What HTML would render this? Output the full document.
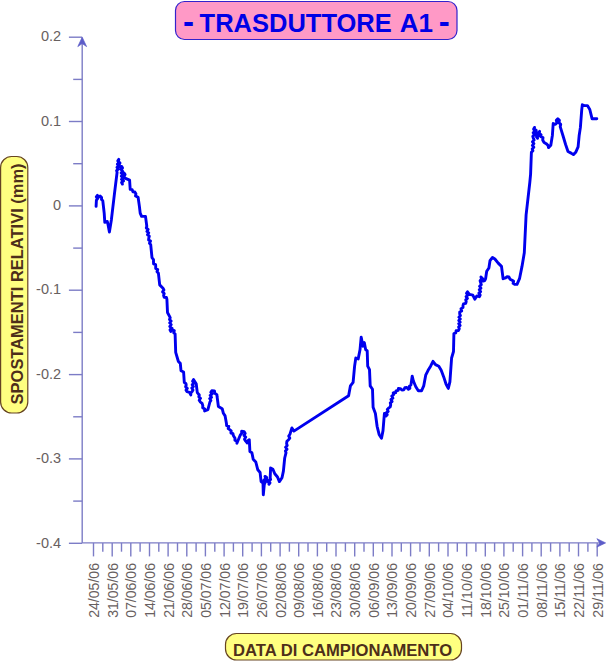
<!DOCTYPE html>
<html><head><meta charset="utf-8"><title>TRASDUTTORE A1</title>
<style>
html,body{margin:0;padding:0;background:#fff;}
body{width:610px;height:661px;overflow:hidden;position:relative;font-family:"Liberation Sans",sans-serif;}
svg{position:absolute;left:0;top:0;display:block}
</style></head><body>
<svg width="610" height="661" viewBox="0 0 610 661" font-family="Liberation Sans, sans-serif">
<rect width="610" height="661" fill="#ffffff"/>
<!-- title -->
<rect x="175.5" y="1.5" width="281.5" height="38" rx="9" ry="9" fill="#ff99c6" stroke="#3322cc" stroke-width="1.2"/>
<g font-weight="bold" fill="#0000e6">
<text x="182.9" y="33.2" font-size="33">-</text>
<text x="199.6" y="31.5" font-size="26" textLength="192.2" lengthAdjust="spacingAndGlyphs">TRASDUTTORE</text>
<text x="399.8" y="31.5" font-size="26">A1</text>
<text x="438.7" y="33.2" font-size="33">-</text>
</g>
<!-- y label -->
<rect x="0.6" y="156.5" width="27.2" height="256.5" rx="11" ry="11" fill="#ffff80" stroke="#664422" stroke-width="1.2"/>
<text transform="translate(22.6,283.9) rotate(-90)" font-size="16.5" font-weight="bold" fill="#4d2e1a" text-anchor="middle" textLength="241" lengthAdjust="spacingAndGlyphs">SPOSTAMENTI RELATIVI (mm)</text>
<!-- x label -->
<rect x="225.5" y="633.5" width="236" height="26.5" rx="11" ry="11" fill="#ffff80" stroke="#664422" stroke-width="1.2"/>
<text x="342.6" y="655.5" font-size="16" font-weight="bold" fill="#4d2e1a" text-anchor="middle" textLength="219" lengthAdjust="spacingAndGlyphs">DATA DI CAMPIONAMENTO</text>
<!-- axes -->
<g stroke="#7c7cc6" stroke-width="1.4" fill="none">
<line x1="82.2" y1="542.9" x2="82.2" y2="38.2"/>
<line x1="82.2" y1="542.9" x2="604" y2="542.9"/>
<line x1="68.9" y1="37.2" x2="82.2" y2="37.2"/>
<line x1="73.2" y1="79.4" x2="82.2" y2="79.4"/>
<line x1="68.9" y1="121.5" x2="82.2" y2="121.5"/>
<line x1="73.2" y1="163.7" x2="82.2" y2="163.7"/>
<line x1="68.9" y1="205.9" x2="82.2" y2="205.9"/>
<line x1="73.2" y1="248.1" x2="82.2" y2="248.1"/>
<line x1="68.9" y1="290.2" x2="82.2" y2="290.2"/>
<line x1="73.2" y1="332.4" x2="82.2" y2="332.4"/>
<line x1="68.9" y1="374.6" x2="82.2" y2="374.6"/>
<line x1="73.2" y1="416.8" x2="82.2" y2="416.8"/>
<line x1="68.9" y1="458.9" x2="82.2" y2="458.9"/>
<line x1="73.2" y1="501.1" x2="82.2" y2="501.1"/>
<line x1="68.9" y1="543.3" x2="82.2" y2="543.3"/>
<line x1="93.5" y1="542.9" x2="93.5" y2="556.4"/>
<line x1="102.8" y1="542.9" x2="102.8" y2="551.7"/>
<line x1="112.2" y1="542.9" x2="112.2" y2="556.4"/>
<line x1="121.5" y1="542.9" x2="121.5" y2="551.7"/>
<line x1="130.8" y1="542.9" x2="130.8" y2="556.4"/>
<line x1="140.1" y1="542.9" x2="140.1" y2="551.7"/>
<line x1="149.5" y1="542.9" x2="149.5" y2="556.4"/>
<line x1="158.8" y1="542.9" x2="158.8" y2="551.7"/>
<line x1="168.1" y1="542.9" x2="168.1" y2="556.4"/>
<line x1="177.5" y1="542.9" x2="177.5" y2="551.7"/>
<line x1="186.8" y1="542.9" x2="186.8" y2="556.4"/>
<line x1="196.1" y1="542.9" x2="196.1" y2="551.7"/>
<line x1="205.4" y1="542.9" x2="205.4" y2="556.4"/>
<line x1="214.8" y1="542.9" x2="214.8" y2="551.7"/>
<line x1="224.1" y1="542.9" x2="224.1" y2="556.4"/>
<line x1="233.4" y1="542.9" x2="233.4" y2="551.7"/>
<line x1="242.7" y1="542.9" x2="242.7" y2="556.4"/>
<line x1="252.1" y1="542.9" x2="252.1" y2="551.7"/>
<line x1="261.4" y1="542.9" x2="261.4" y2="556.4"/>
<line x1="270.7" y1="542.9" x2="270.7" y2="551.7"/>
<line x1="280.1" y1="542.9" x2="280.1" y2="556.4"/>
<line x1="289.4" y1="542.9" x2="289.4" y2="551.7"/>
<line x1="298.7" y1="542.9" x2="298.7" y2="556.4"/>
<line x1="308.0" y1="542.9" x2="308.0" y2="551.7"/>
<line x1="317.4" y1="542.9" x2="317.4" y2="556.4"/>
<line x1="326.7" y1="542.9" x2="326.7" y2="551.7"/>
<line x1="336.0" y1="542.9" x2="336.0" y2="556.4"/>
<line x1="345.4" y1="542.9" x2="345.4" y2="551.7"/>
<line x1="354.7" y1="542.9" x2="354.7" y2="556.4"/>
<line x1="364.0" y1="542.9" x2="364.0" y2="551.7"/>
<line x1="373.3" y1="542.9" x2="373.3" y2="556.4"/>
<line x1="382.7" y1="542.9" x2="382.7" y2="551.7"/>
<line x1="392.0" y1="542.9" x2="392.0" y2="556.4"/>
<line x1="401.3" y1="542.9" x2="401.3" y2="551.7"/>
<line x1="410.6" y1="542.9" x2="410.6" y2="556.4"/>
<line x1="420.0" y1="542.9" x2="420.0" y2="551.7"/>
<line x1="429.3" y1="542.9" x2="429.3" y2="556.4"/>
<line x1="438.6" y1="542.9" x2="438.6" y2="551.7"/>
<line x1="448.0" y1="542.9" x2="448.0" y2="556.4"/>
<line x1="457.3" y1="542.9" x2="457.3" y2="551.7"/>
<line x1="466.6" y1="542.9" x2="466.6" y2="556.4"/>
<line x1="475.9" y1="542.9" x2="475.9" y2="551.7"/>
<line x1="485.3" y1="542.9" x2="485.3" y2="556.4"/>
<line x1="494.6" y1="542.9" x2="494.6" y2="551.7"/>
<line x1="503.9" y1="542.9" x2="503.9" y2="556.4"/>
<line x1="513.2" y1="542.9" x2="513.2" y2="551.7"/>
<line x1="522.6" y1="542.9" x2="522.6" y2="556.4"/>
<line x1="531.9" y1="542.9" x2="531.9" y2="551.7"/>
<line x1="541.2" y1="542.9" x2="541.2" y2="556.4"/>
<line x1="550.6" y1="542.9" x2="550.6" y2="551.7"/>
<line x1="559.9" y1="542.9" x2="559.9" y2="556.4"/>
<line x1="569.2" y1="542.9" x2="569.2" y2="551.7"/>
<line x1="578.5" y1="542.9" x2="578.5" y2="556.4"/>
<line x1="587.9" y1="542.9" x2="587.9" y2="551.7"/>
<line x1="597.2" y1="542.9" x2="597.2" y2="556.4"/>
</g>
<path d="M82.2,37.2 l4.4,9.4 l-4.4,-3 l-4.4,3 z" fill="#5c5cc8" stroke="#5c5cc8" stroke-width="0.7" stroke-linejoin="round"/>
<path d="M605.6,542.9 l-8.7,-4.2 l2.8,4.2 l-2.8,4.2 z" fill="#5c5cc8" stroke="#5c5cc8" stroke-width="0.7" stroke-linejoin="round"/>
<g font-size="15" fill="#686060">
<text x="40.9" y="41.4" textLength="20.2" lengthAdjust="spacingAndGlyphs">0.2</text>
<text x="40.9" y="125.8" textLength="20.2" lengthAdjust="spacingAndGlyphs">0.1</text>
<text x="53.0" y="210.1" textLength="8.1" lengthAdjust="spacingAndGlyphs">0</text>
<text x="36.1" y="294.4" textLength="25.0" lengthAdjust="spacingAndGlyphs">-0.1</text>
<text x="36.1" y="378.8" textLength="25.0" lengthAdjust="spacingAndGlyphs">-0.2</text>
<text x="36.1" y="463.1" textLength="25.0" lengthAdjust="spacingAndGlyphs">-0.3</text>
<text x="36.1" y="547.5" textLength="25.0" lengthAdjust="spacingAndGlyphs">-0.4</text>
<text transform="translate(98.9,617.8) rotate(-90)" textLength="54.8" lengthAdjust="spacingAndGlyphs">24/05/06</text>
<text transform="translate(117.6,617.8) rotate(-90)" textLength="54.8" lengthAdjust="spacingAndGlyphs">31/05/06</text>
<text transform="translate(136.2,617.8) rotate(-90)" textLength="54.8" lengthAdjust="spacingAndGlyphs">07/06/06</text>
<text transform="translate(154.9,617.8) rotate(-90)" textLength="54.8" lengthAdjust="spacingAndGlyphs">14/06/06</text>
<text transform="translate(173.5,617.8) rotate(-90)" textLength="54.8" lengthAdjust="spacingAndGlyphs">21/06/06</text>
<text transform="translate(192.2,617.8) rotate(-90)" textLength="54.8" lengthAdjust="spacingAndGlyphs">28/06/06</text>
<text transform="translate(210.8,617.8) rotate(-90)" textLength="54.8" lengthAdjust="spacingAndGlyphs">05/07/06</text>
<text transform="translate(229.5,617.8) rotate(-90)" textLength="54.8" lengthAdjust="spacingAndGlyphs">12/07/06</text>
<text transform="translate(248.1,617.8) rotate(-90)" textLength="54.8" lengthAdjust="spacingAndGlyphs">19/07/06</text>
<text transform="translate(266.8,617.8) rotate(-90)" textLength="54.8" lengthAdjust="spacingAndGlyphs">26/07/06</text>
<text transform="translate(285.5,617.8) rotate(-90)" textLength="54.8" lengthAdjust="spacingAndGlyphs">02/08/06</text>
<text transform="translate(304.1,617.8) rotate(-90)" textLength="54.8" lengthAdjust="spacingAndGlyphs">09/08/06</text>
<text transform="translate(322.8,617.8) rotate(-90)" textLength="54.8" lengthAdjust="spacingAndGlyphs">16/08/06</text>
<text transform="translate(341.4,617.8) rotate(-90)" textLength="54.8" lengthAdjust="spacingAndGlyphs">23/08/06</text>
<text transform="translate(360.1,617.8) rotate(-90)" textLength="54.8" lengthAdjust="spacingAndGlyphs">30/08/06</text>
<text transform="translate(378.7,617.8) rotate(-90)" textLength="54.8" lengthAdjust="spacingAndGlyphs">06/09/06</text>
<text transform="translate(397.4,617.8) rotate(-90)" textLength="54.8" lengthAdjust="spacingAndGlyphs">13/09/06</text>
<text transform="translate(416.0,617.8) rotate(-90)" textLength="54.8" lengthAdjust="spacingAndGlyphs">20/09/06</text>
<text transform="translate(434.7,617.8) rotate(-90)" textLength="54.8" lengthAdjust="spacingAndGlyphs">27/09/06</text>
<text transform="translate(453.4,617.8) rotate(-90)" textLength="54.8" lengthAdjust="spacingAndGlyphs">04/10/06</text>
<text transform="translate(472.0,617.8) rotate(-90)" textLength="54.8" lengthAdjust="spacingAndGlyphs">11/10/06</text>
<text transform="translate(490.7,617.8) rotate(-90)" textLength="54.8" lengthAdjust="spacingAndGlyphs">18/10/06</text>
<text transform="translate(509.3,617.8) rotate(-90)" textLength="54.8" lengthAdjust="spacingAndGlyphs">25/10/06</text>
<text transform="translate(528.0,617.8) rotate(-90)" textLength="54.8" lengthAdjust="spacingAndGlyphs">01/11/06</text>
<text transform="translate(546.6,617.8) rotate(-90)" textLength="54.8" lengthAdjust="spacingAndGlyphs">08/11/06</text>
<text transform="translate(565.3,617.8) rotate(-90)" textLength="54.8" lengthAdjust="spacingAndGlyphs">15/11/06</text>
<text transform="translate(583.9,617.8) rotate(-90)" textLength="54.8" lengthAdjust="spacingAndGlyphs">22/11/06</text>
<text transform="translate(602.6,617.8) rotate(-90)" textLength="54.8" lengthAdjust="spacingAndGlyphs">29/11/06</text>
</g>
<polyline points="96.1,206.4 96.4,200.2 97.5,198.8 96.3,196.8 97.4,195.4 98.8,197.2 100.1,196.0 101.6,197.6 101.5,199.5 102.8,200.8 103.5,207.0 104.2,213.1 104.8,222.3 107.3,221.5 108.1,224.9 109.4,232.1 111.4,219.7 114.5,193.3 117.1,172.3 116.6,170.6 118.3,169.2 117.0,167.4 118.7,165.9 117.4,164.1 119.1,162.7 117.8,160.9 118.8,159.4 118.3,161.4 120.0,163.1 118.8,165.2 119.8,167.0 121.7,166.4 122.5,168.0 121.1,169.6 122.6,171.2 121.2,172.9 122.8,174.4 121.3,176.1 122.9,177.6 121.5,179.3 123.0,180.9 121.6,182.5 122.4,184.1 121.9,182.4 123.6,181.0 122.4,179.2 124.1,177.9 122.9,176.1 124.6,174.7 124.1,173.0 125.1,174.6 124.0,176.6 125.0,178.2 129.6,180.2 130.2,189.3 132.1,189.6 132.9,191.7 134.8,192.0 135.9,193.8 135.5,195.9 138.1,197.2 139.4,206.4 140.2,213.1 141.6,216.4 145.5,216.4 146.8,226.2 146.3,228.0 148.1,229.4 146.9,231.4 148.7,232.8 147.5,234.8 149.3,236.2 148.8,238.0 148.6,239.9 150.5,241.1 149.5,243.2 150.7,244.6 152.0,257.7 153.5,259.6 153.5,262.0 153.6,263.9 155.6,264.7 155.7,266.6 155.7,268.5 157.7,269.6 157.0,271.8 158.4,273.1 159.7,284.9 163.0,288.2 163.9,289.9 162.6,291.9 164.2,293.5 163.6,295.4 164.1,297.2 166.4,297.5 166.9,299.3 167.5,312.5 170.2,317.7 169.5,319.5 171.1,321.1 169.7,322.9 171.2,324.6 169.8,326.4 171.4,328.0 170.0,329.8 170.8,331.5 170.8,329.6 172.1,328.2 172.2,330.0 174.3,330.7 173.7,332.8 175.1,333.9 175.7,352.3 178.4,361.5 180.3,363.4 181.0,370.7 183.6,372.0 184.3,382.5 185.9,383.4 186.2,385.1 185.6,386.8 187.3,388.3 186.0,390.1 186.9,391.6 189.5,392.3 190.8,394.9 190.8,393.0 192.1,391.6 193.0,390.0 191.8,388.1 193.4,386.5 192.2,384.7 193.8,383.1 192.6,381.2 193.5,379.6 196.2,383.8 197.3,392.6 199.3,395.0 198.8,396.8 200.5,398.3 199.2,400.2 200.2,401.8 202.1,403.3 202.8,405.7 202.7,407.7 204.7,409.0 204.6,411.0 207.9,409.6 209.9,402.0 210.9,400.5 209.7,398.6 211.5,397.3 210.2,395.4 212.0,394.1 210.8,392.2 211.8,390.7 214.5,391.0 214.7,393.2 216.9,394.6 217.1,396.8 218.4,406.5 222.2,408.7 223.4,413.3 225.1,415.9 226.5,423.8 226.6,425.6 228.8,426.4 228.2,428.6 229.7,429.7 231.2,430.8 230.9,433.0 233.0,433.7 233.3,435.6 235.0,438.3 234.9,440.2 237.0,441.3 236.9,443.2 240.3,435.0 241.7,433.4 241.6,431.3 244.2,431.7 245.2,433.4 244.0,435.5 245.7,437.1 244.5,439.2 245.5,440.9 247.3,443.0 247.7,441.0 249.3,439.7 249.9,451.5 251.9,452.8 253.2,459.3 255.8,462.0 257.8,469.8 260.1,472.5 261.1,481.6 263.0,483.0 263.3,494.8 264.3,484.3 265.2,482.4 263.9,480.3 265.6,478.4 265.0,476.4 266.6,477.2 267.0,479.0 266.9,481.0 269.0,482.3 268.9,484.3 270.0,482.8 268.8,480.9 270.6,479.5 270.2,477.7 270.6,467.9 272.9,469.2 274.8,473.8 277.5,477.0 279.4,481.6 282.0,477.7 283.4,471.1 284.7,458.0 286.0,452.8 285.4,450.9 287.0,449.2 285.6,447.2 287.2,445.5 286.6,443.6 286.9,441.3 288.6,439.7 289.8,438.1 288.7,436.0 289.9,434.4 291.9,427.9 293.9,431.1 348.6,395.8 350.4,385.9 353.1,382.3 354.6,366.1 355.8,358.0 358.2,358.9 360.0,349.8 361.2,337.2 363.0,346.2 364.3,342.6 365.7,349.8 367.2,350.7 367.7,366.1 369.5,369.6 370.2,385.9 372.5,389.3 373.1,407.3 375.4,413.5 377.1,426.3 379.1,434.4 381.5,438.3 383.0,430.6 384.4,413.5 386.0,416.0 387.2,414.7 386.3,412.7 388.2,411.5 387.3,409.5 388.5,408.2 390.2,406.9 390.7,404.8 390.3,402.9 392.1,401.5 391.0,399.5 392.9,398.1 391.8,396.1 393.6,394.7 393.2,392.8 395.8,392.7 396.0,390.9 398.2,390.3 398.4,388.5 400.4,388.6 401.9,390.0 403.9,389.8 404.8,387.7 406.8,387.5 408.4,389.2 409.9,388.2 409.4,386.1 410.9,385.1 412.2,376.1 413.4,381.0 415.8,386.7 418.3,390.8 421.6,390.8 423.7,385.9 425.7,375.2 428.1,370.3 430.6,366.2 433.0,361.3 435.5,364.6 438.8,366.2 441.2,370.3 443.7,376.9 446.1,384.3 448.3,388.4 449.9,381.8 451.6,358.0 453.5,351.5 453.9,333.6 455.8,332.9 456.1,330.6 458.5,330.5 459.3,328.7 458.6,327.0 460.1,325.4 458.7,323.7 460.2,322.1 458.8,320.5 460.3,318.9 458.9,317.2 460.4,315.6 459.7,313.9 459.7,312.0 461.7,310.9 461.0,308.7 463.0,307.6 463.0,305.7 463.5,303.9 465.7,303.4 466.2,301.6 465.7,299.9 467.4,298.4 466.1,296.6 467.8,295.2 466.5,293.3 467.5,291.8 469.5,294.3 472.8,295.1 474.8,299.2 476.9,295.9 479.3,296.7 480.2,295.0 478.9,293.1 480.6,291.6 479.3,289.7 480.9,288.1 479.6,286.2 481.3,284.6 480.7,282.8 480.1,280.8 481.6,279.0 481.0,277.0 482.7,278.7 483.0,281.1 484.8,280.5 485.6,278.7 486.7,271.3 488.9,268.0 490.0,260.7 492.5,257.4 494.9,259.0 498.2,263.1 501.5,266.4 503.1,278.7 505.6,277.9 507.1,276.7 508.9,277.0 510.0,279.2 512.1,280.3 513.6,281.3 513.1,283.4 514.6,284.4 517.0,284.4 519.5,278.7 522.0,266.4 524.3,252.8 526.1,214.9 529.8,182.5 530.6,174.1 531.4,152.3 532.9,150.7 532.2,148.9 533.8,147.2 532.4,145.4 533.9,143.6 532.5,141.8 534.1,140.1 533.4,138.3 532.8,136.4 534.5,134.7 533.2,132.8 534.9,131.1 533.6,129.1 534.5,127.4 534.3,129.2 536.2,130.3 536.0,132.1 535.7,133.8 537.5,135.0 536.5,136.9 537.6,138.3 537.4,136.3 539.3,135.0 538.4,132.8 539.6,131.3 539.2,133.2 541.1,134.8 540.7,136.7 543.0,137.5 542.7,140.0 543.8,142.2 546.2,143.7 548.0,145.3 548.5,147.6 550.8,145.3 552.4,135.2 553.2,123.5 555.5,124.3 557.0,122.8 556.3,120.3 557.8,118.8 559.4,120.4 558.9,122.6 560.7,124.4 560.2,126.6 563.3,136.7 565.6,144.5 568.0,151.5 571.1,153.1 573.4,154.6 575.7,152.3 578.1,146.9 579.2,135.2 580.4,127.4 581.7,110.2 582.3,104.8 584.3,105.6 587.4,105.6 589.8,109.5 591.3,115.7 592.1,118.8 596.8,118.8" fill="none" stroke="#0000ee" stroke-width="2.9" stroke-linejoin="round" stroke-linecap="round"/>
</svg>
</body></html>
